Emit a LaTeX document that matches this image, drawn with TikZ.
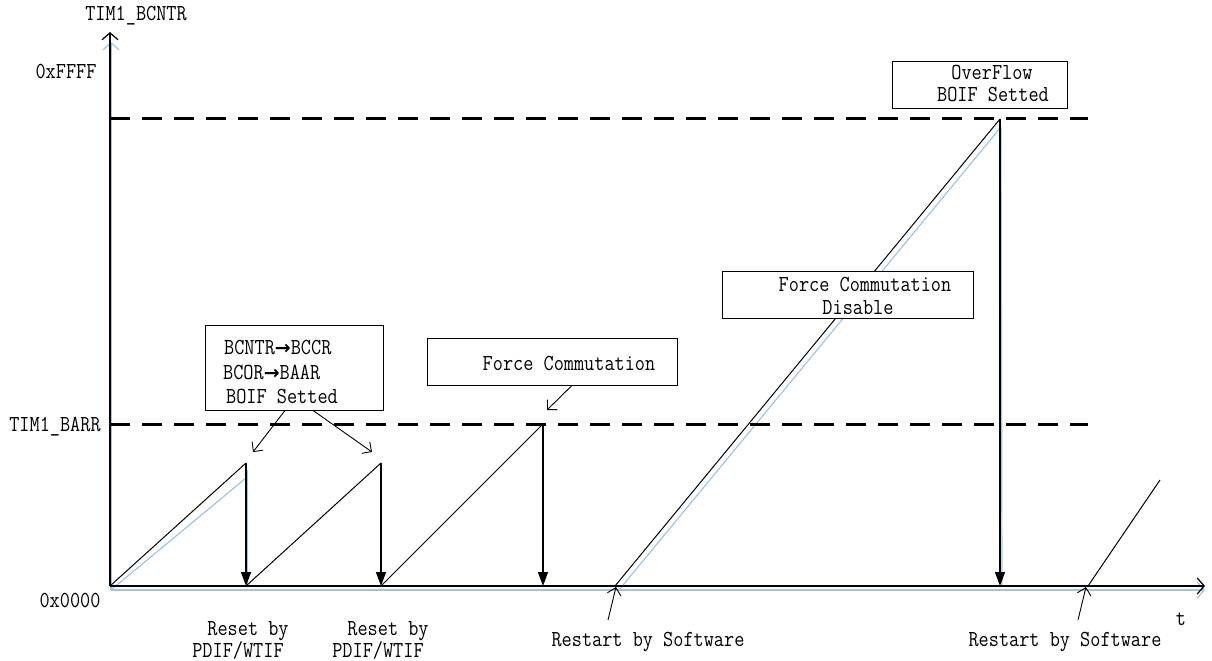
\documentclass[tikz,border=0pt]{standalone}
\usepackage{fontspec}
\setmonofont{Latin Modern Mono}[FakeStretch=0.86]
\newfontfamily\symfont{DejaVu Sans}
\usetikzlibrary{arrows.meta}
\newcommand{\rarr}{{\symfont\bfseries\fontsize{19}{20}\selectfont →}}
\begin{document}
\begin{tikzpicture}[x=1bp,y=-1bp,
  txt/.style={font=\ttfamily\fontsize{23}{24}\selectfont, inner sep=0pt, anchor=base},
  boxn/.style={draw=black, line width=0.9bp, fill=white, inner sep=0pt},
  axis/.style={line width=1.4bp, -{Straight Barb[length=7bp,width=16bp,line width=1.2bp]}},
  blueaxis/.style={draw={rgb,255:red,160;green,196;blue,230}, line width=1.4bp, -{Straight Barb[length=7bp,width=16bp,line width=1.2bp]}},
  blueline/.style={draw={rgb,255:red,160;green,196;blue,230}, line width=1.2bp},
  ramp/.style={line width=1bp},
  drop/.style={line width=1.4bp, -{Triangle[length=14bp,width=10bp]}},
  dashl/.style={line width=3bp, dash pattern=on 20bp off 12bp},
  callout/.style={line width=0.9bp, -{Straight Barb[length=7bp,width=14bp,line width=0.9bp]}}
]
\useasboundingbox (0,0) rectangle (1212,661);

% key points
\coordinate (O) at (110,586);
\coordinate (Ytop) at (110,32);
\coordinate (Xend) at (1205,586);
\coordinate (L1) at (110,119);
\coordinate (R1) at (1088,119);
\coordinate (L2) at (110,424);
\coordinate (R2) at (1088,424);
\coordinate (p1) at (246,463);
\coordinate (b1) at (246,586);
\coordinate (p2) at (381,463);
\coordinate (b2) at (381,586);
\coordinate (p3) at (543,424);
\coordinate (b3) at (543,586);
\coordinate (s4) at (615,586);
\coordinate (p4) at (1000,119);
\coordinate (b4) at (1000,586);
\coordinate (s5) at (1088,586);
\coordinate (p5) at (1160,480);

% blue shadow lines
\coordinate (bo) at (111,590);
\coordinate (bxe) at (1205,590);
\coordinate (byt) at (111,42);
\coordinate (bp1) at (246,478);
\coordinate (bs4) at (619,590);
\coordinate (bp4) at (1001,127);
\coordinate (bb4) at (1002,586);
\coordinate (bb1) at (247.5,586);
\coordinate (bt1) at (247.5,470);
\draw[blueaxis] (bo) -- (bxe);
\draw[blueaxis] (bo) -- (byt);
\draw[blueline] (bo) -- (bp1);
\draw[blueline] (bs4) -- (bp4);
\draw[blueline] (bp4) -- (bb4);
\draw[blueline] (bt1) -- (bb1);

% dashed levels
\draw[dashl] (L1) -- (R1);
\draw[dashl] (L2) -- (R2);

% axes
\draw[axis] (O) -- (Ytop);
\draw[axis] (O) -- (Xend);

% sawtooth
\draw[ramp] (O) -- (p1);
\draw[drop] (p1) -- (b1);
\draw[ramp] (b1) -- (p2);
\draw[drop] (p2) -- (b2);
\draw[ramp] (b2) -- (p3);
\draw[drop] (p3) -- (b3);
\draw[ramp] (s4) -- (p4);
\draw[drop] (p4) -- (b4);
\draw[ramp] (s5) -- (p5);

% axis labels
\node[txt] (ylab) at (136,21) {TIM1\_BCNTR};
\node[txt] (lffff) at (66,79) {0xFFFF};
\node[txt] (lbarr) at (55,431) {TIM1\_BARR};
\node[txt] (l0000) at (70,607) {0x0000};
\node[txt] (tlab) at (1181,625) {t};

% boxes
\node[boxn, minimum width=178bp, minimum height=85bp] (box1) at (294,367.5) {};
\node[txt, anchor=base west] (b1t1) at (224,354) {BCNTR\rarr BCCR};
\node[txt, anchor=base west] (b1t2) at (223,379) {BCOR\rarr BAAR};
\node[txt, anchor=base west] (b1t3) at (226,403) {BOIF Setted};

\node[boxn, minimum width=250bp, minimum height=47bp] (box2) at (552,361.5) {};
\node[txt] (b2t) at (569,370) {Force Commutation};

\node[boxn, minimum width=251bp, minimum height=47bp] (box3) at (847.5,294.5) {};
\node[txt] (b3t1) at (865,291) {Force Commutation};
\node[txt] (b3t2) at (858,314) {Disable};

\node[boxn, minimum width=175bp, minimum height=47bp] (box4) at (979.5,84.5) {};
\node[txt] (b4t1) at (992,80) {OverFlow};
\node[txt] (b4t2) at (993,102) {BOIF Setted};

% callouts
\coordinate (c1) at (253,452);
\coordinate (c2) at (372,452);
\coordinate (c3) at (547,410);
\draw[callout] ([xshift=-9bp]box1.south) -- (c1);
\draw[callout] ([xshift=19bp]box1.south) -- (c2);
\draw[callout] ([xshift=20bp]box2.south) -- (c3);

% bottom labels
\node[txt] (r1a) at (248,635) {Reset by};
\node[txt] (r1b) at (238,657) {PDIF/WTIF};
\node[txt] (r2a) at (388,635) {Reset by};
\node[txt] (r2b) at (378,657) {PDIF/WTIF};
\node[txt] (rs1) at (648,646) {Restart by Software};
\node[txt] (rs2) at (1065,646) {Restart by Software};

\coordinate (q1) at (608,620);
\coordinate (q2) at (1078,620);
\coordinate (t1) at (616,587);
\coordinate (t2) at (1086,587);
\draw[callout] (q1) -- (t1);
\draw[callout] (q2) -- (t2);
\end{tikzpicture}
\end{document}
